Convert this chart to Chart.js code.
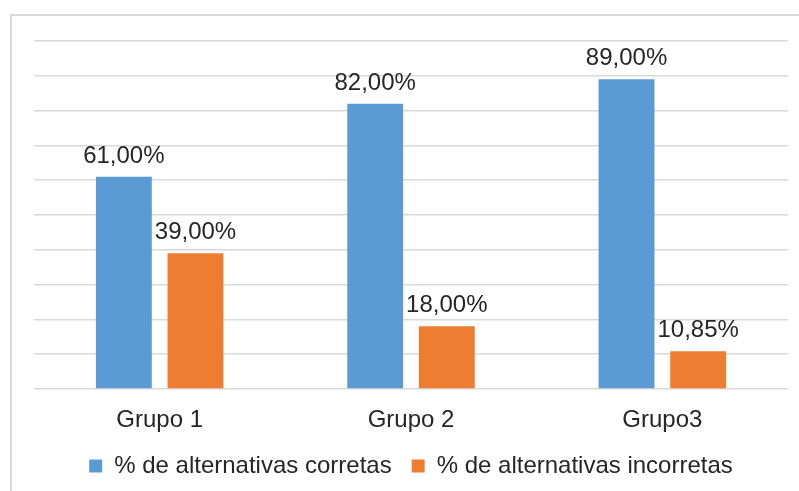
<!DOCTYPE html>
<html>
<head>
<meta charset="utf-8">
<script src="https://cdn.jsdelivr.net/npm/chart.js@4/dist/chart.umd.min.js"></script>
<style>
  html, body { margin: 0; padding: 0; background: #fff; }
  #wrap { width: 799px; height: 491px; position: relative; }
</style>
</head>
<body>
<div id="wrap"><canvas id="myChart"></canvas></div>
<script>
// data //
var grupos = ['Grupo 1', 'Grupo 2', 'Grupo3'];
var corretas = [61.00, 82.00, 89.00];
var incorretas = [39.00, 18.00, 10.85];
var serieNames = ['% de alternativas corretas', '% de alternativas incorretas'];

var fontFam = '"Liberation Sans", Arial, sans-serif';
var textColor = '#262626';

// frame round the chart //
var framePlugin = {
    id: 'frame',
    beforeDraw: function(chart) {
        var c = chart.ctx;
        c.save();
        c.strokeStyle = '#d9d9d9';
        c.lineWidth = 2;
        c.strokeRect(11, 15, 800, 500);
        c.restore();
    }
};

// value labels above the bars //
var valueLabels = {
    id: 'valueLabels',
    afterDatasetsDraw: function(chart) {
        var c = chart.ctx;
        c.save();
        c.font = '24px ' + fontFam;
        c.fillStyle = textColor;
        c.textAlign = 'center';
        c.textBaseline = 'alphabetic';
        chart.data.datasets.forEach(function(ds, i) {
            chart.getDatasetMeta(i).data.forEach(function(bar, j) {
                var txt = ds.data[j].toFixed(2).replace('.', ',') + '%';
                c.fillText(txt, bar.x, bar.y - 14);
            });
        });
        c.restore();
    }
};

var ctx = document.getElementById('myChart').getContext('2d');
var chart = new Chart(ctx, {
    type: 'bar',
    data: {
        labels: grupos,
        datasets: [{
            label: serieNames[0],
            data: corretas,
            backgroundColor: '#5B9BD5'
        }, {
            label: serieNames[1],
            data: incorretas,
            backgroundColor: '#ED7D31'
        }]
    },
    options: {
        responsive: true,
        maintainAspectRatio: false,
        animation: false,
        datasets: {
            bar: { categoryPercentage: 0.57, barPercentage: 0.78 }
        },
        layout: { padding: { left: 34, right: 11, top: 41, bottom: 3 } },
        scales: {
            x: {
                grid: { display: false },
                border: { display: false },
                ticks: { font: { size: 24, family: fontFam }, color: textColor, padding: 9 },
                afterFit: function(scale) { scale.height = 45; }
            },
            y: {
                min: 0,
                max: 100,
                ticks: { display: false, stepSize: 10 },
                border: { display: false },
                grid: { color: '#d9d9d9', lineWidth: 1.5, drawTicks: false }
            }
        },
        plugins: {
            legend: {
                position: 'bottom',
                labels: {
                    boxWidth: 13,
                    boxHeight: 13,
                    padding: 20,
                    color: textColor,
                    font: { size: 24, family: fontFam }
                }
            },
            tooltip: { enabled: false }
        }
    },
    plugins: [framePlugin, valueLabels]
});
</script>
</body>
</html>
